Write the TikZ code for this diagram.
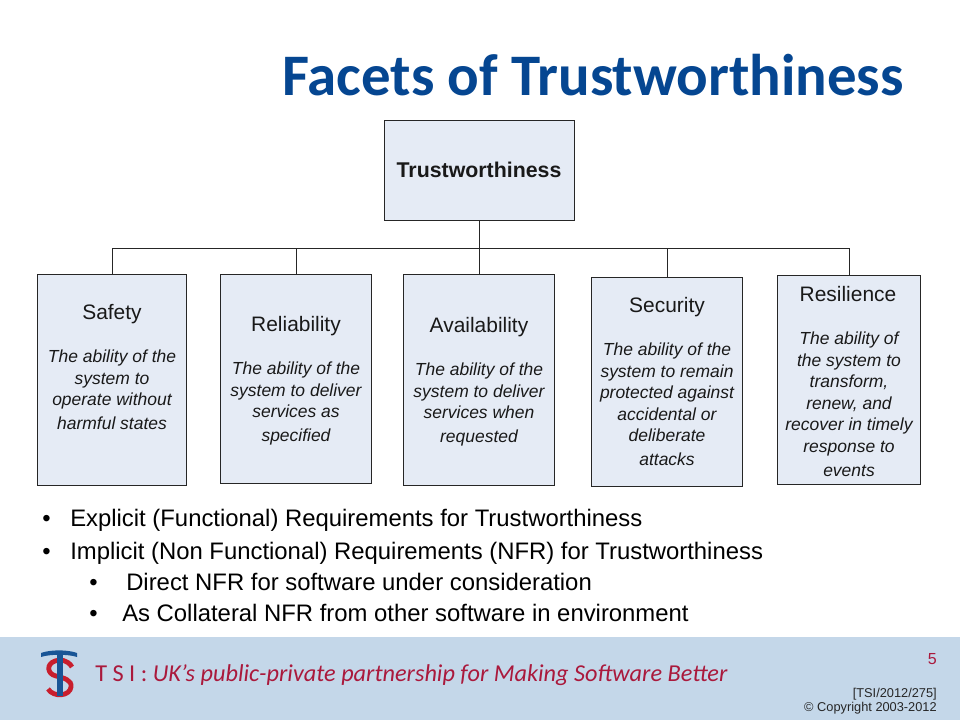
\documentclass[tikz,border=0pt]{standalone}
\usepackage{fontspec}
\setmainfont{Liberation Sans}
\newfontfamily\calib{Carlito}
\definecolor{band}{RGB}{196,215,233}
\definecolor{boxfill}{RGB}{229,235,245}
\definecolor{titleblue}{RGB}{5,70,145}
\definecolor{crim}{RGB}{170,25,60}
\definecolor{logoblue}{RGB}{25,85,150}
\definecolor{logored}{RGB}{200,30,45}
\tikzset{
 x=0.75pt,y=-0.75pt,
 facet/.style={draw=black!85,line width=0.75pt,fill=boxfill,minimum width=0pt,inner sep=0pt,rectangle},
 head/.style={font=\fontsize{15.7pt}{18pt}\selectfont,inner sep=0pt,text=black!90},
 desc/.style={font=\fontsize{13.1pt}{16.2pt}\itshape\selectfont,inner sep=0pt,align=center,text=black!90,anchor=north},
 wire/.style={draw=black!85,line width=0.75pt},
 bul/.style={font=\fontsize{17.9pt}{21pt}\selectfont,inner sep=0pt,anchor=base west,text=black},
}
\begin{document}
\begin{tikzpicture}
\useasboundingbox (0,0) rectangle (960,720);
\fill[white] (0,0) rectangle (960,720);
\fill[band] (0,637) rectangle (960,720);
\node[anchor=base west,inner sep=0pt,text=titleblue,font=\fontsize{44.15pt}{52pt}\calib\bfseries\selectfont] (title) at (282,96) {Facets of Trustworthiness};
% boxes
\node[facet,minimum width=142.5pt,minimum height=75pt] (root) at (479.5,171) {};
\node[anchor=center,inner sep=0pt,font=\fontsize{16pt}{19pt}\bfseries\selectfont,text=black!90] (roott) at (479,170) {Trustworthiness};
\node[facet,minimum width=111.75pt,minimum height=157.5pt] (b1) at (112,380) {};
\node[facet,minimum width=113.25pt,minimum height=156pt] (b2) at (296,379) {};
\node[facet,minimum width=113.25pt,minimum height=157.5pt] (b3) at (479,380) {};
\node[facet,minimum width=113.25pt,minimum height=156pt] (b4) at (667,382) {};
\node[facet,minimum width=107.25pt,minimum height=156pt] (b5) at (849,380) {};
% connectors
\coordinate (bus) at (479.5,249);
\draw[wire] (root.south) -- (bus);
\draw[wire] (b1.north) -- (b1.north |- bus) -- (b5.north |- bus) -- (b5.north);
\draw[wire] (b2.north) -- (b2.north |- bus);
\draw[wire] (b3.north) -- (b3.north |- bus);
\draw[wire] (b4.north) -- (b4.north |- bus);
% text
\node[head] (h1) at (112,314) {Safety};
\node[desc] (d1) at (112,349.5) {The ability of the\\system to\\operate without\\[1.5pt]harmful states};
\node[head] (h2) at (296,326) {Reliability};
\node[desc] (d2) at (296,361.5) {The ability of the\\system to deliver\\services as\\[1.5pt]specified};
\node[head] (h3) at (479,327) {Availability};
\node[desc] (d3) at (479,362.5) {The ability of the\\system to deliver\\services when\\[1.5pt]requested};
\node[head] (h4) at (667,307) {Security};
\node[desc] (d4) at (667,342.5) {The ability of the\\system to remain\\protected against\\accidental or\\deliberate\\[1.5pt]attacks};
\node[head] (h5) at (848,294) {Resilience};
\node[desc] (d5) at (849,331.5) {The ability of\\the system to\\transform,\\renew, and\\recover in timely\\response to\\[1.5pt]events};
% bullets
\node[bul] (p1) at (42,526.5) {•};
\node[bul] (t1) at (70,526.5) {Explicit (Functional) Requirements for Trustworthiness};
\node[bul] (p2) at (42,559) {•};
\node[bul] (t2) at (70,559) {Implicit (Non Functional) Requirements (NFR) for Trustworthiness};
\node[bul] (p3) at (89,590) {•};
\node[bul] (t3) at (126,590) {Direct NFR for software under consideration};
\node[bul] (p4) at (89,621) {•};
\node[bul] (t4) at (122,621) {As Collateral NFR from other software in environment};
% footer
\draw[logored,line width=3.6pt] (72,667) .. controls (68,660) and (60,659) .. (55,661) .. controls (46,664) and (47,674) .. (56,676) .. controls (64,678) and (72,680) .. (71,687) .. controls (70,696) and (54,698) .. (48,689);
\draw[logoblue,line width=4pt] (60,653) -- (60,696);
\fill[logoblue] (41,653) .. controls (50,649.5) and (68,649.5) .. (77,653) -- (77,657) .. controls (68,654) and (50,654) .. (41,657) -- cycle;
\node[anchor=base west,inner sep=0pt,text=crim,font=\fontsize{18.2pt}{21pt}\calib\selectfont] (foot) at (95,681) {T S I : \textit{UK’s public-private partnership for Making Software Better}};
\node[anchor=base east,inner sep=0pt,text=crim,font=\fontsize{12pt}{14pt}\selectfont] (num) at (937,664) {5};
\node[anchor=base east,inner sep=0pt,text=black!85,font=\fontsize{9.6pt}{11pt}\selectfont] (ref) at (937,697) {[TSI/2012/275]};
\node[anchor=base east,inner sep=0pt,text=black!85,font=\fontsize{9.6pt}{11pt}\selectfont] (copy) at (937,711) {© Copyright 2003-2012};
\end{tikzpicture}
\end{document}
